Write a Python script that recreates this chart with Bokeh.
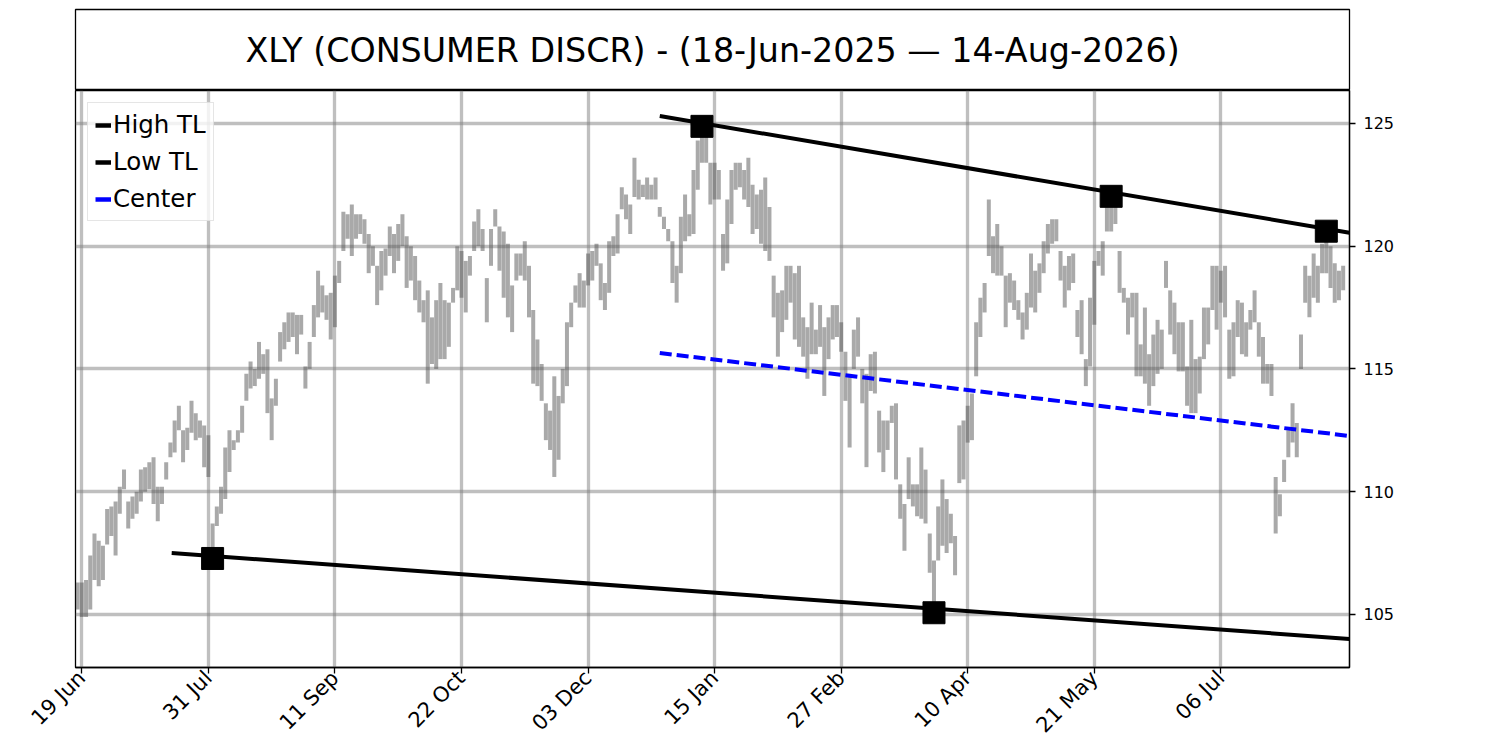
import math
from bokeh.plotting import figure
from bokeh.models import ColumnDataSource, Range1d, FixedTicker, Legend, LegendItem
from bokeh.layouts import column
from bokeh.core.properties import value
from bokeh.embed import file_html
from bokeh.resources import INLINE

TITLE = "XLY (CONSUMER DISCR) - (18-Jun-2025 \u2014 14-Aug-2026)"

TICK_IDX = [1, 31, 61, 91, 121, 151, 181, 211, 241, 271]
TICK_LABELS = ["19 Jun", "31 Jul", "11 Sep", "22 Oct", "03 Dec",
               "15 Jan", "27 Feb", "10 Apr", "21 May", "06 Jul"]
Y_TICKS = [105, 110, 115, 120, 125]

HIGH = [
    106.3, 106.3, 106.4, 107.4, 108.3, 108.0, 107.8, 109.3, 109.4, 109.6,
    110.2, 110.9, 109.6, 109.8, 110.0, 110.9, 111.0, 111.2, 111.4, 110.2,
    110.2, 111.2, 112.0, 112.9, 113.5, 112.5, 112.6, 113.7, 113.2, 112.9,
    112.7, 112.3, 108.7, 109.4, 110.2, 111.8, 112.5, 112.1, 112.5, 113.5,
    114.8, 115.3, 115.0, 116.1, 115.6, 115.8, 113.8, 114.6, 116.5, 116.9,
    117.3, 117.3, 117.2, 117.2, 115.1, 116.1, 117.6, 119.0, 118.4, 118.0,
    118.1, 118.8, 119.4, 121.4, 121.3, 121.7, 121.3, 121.3, 121.1, 120.5,
    120.0, 119.2, 119.8, 119.9, 120.8, 120.5, 120.9, 121.3, 120.4, 120.0,
    119.6, 118.6, 117.8, 118.2, 117.1, 117.8, 118.5, 117.8, 117.7, 118.3,
    120.0, 119.8, 119.4, 119.6, 121.0, 121.5, 120.7, 118.7, 120.7, 121.5,
    120.8, 120.6, 120.1, 118.4, 119.7, 119.7, 120.2, 119.2, 117.4, 116.2,
    115.2, 113.6, 113.3, 114.7, 113.9, 115.0, 116.9, 117.7, 118.4, 118.9,
    118.6, 119.7, 119.8, 120.1, 119.3, 118.5, 120.2, 120.4, 121.3, 122.4,
    122.1, 121.7, 123.6, 122.7, 122.5, 122.8, 122.5, 122.8, 121.6, 121.2,
    120.7, 120.2, 119.2, 121.2, 122.1, 121.3, 123.1, 124.3, 124.88, 124.5,
    123.4, 123.4, 123.1, 120.5, 121.9, 123.1, 123.4, 123.4, 123.1, 123.6,
    122.5, 122.1, 122.3, 122.8, 121.6, 118.8, 118.1, 118.2, 119.2, 119.2,
    118.9, 119.2, 117.1, 116.7, 117.7, 116.6, 117.6, 116.7, 117.1, 117.6,
    117.6, 116.9, 115.7, 114.8, 116.6, 117.1, 115.0, 114.8, 115.6, 115.7,
    113.3, 112.9, 112.9, 113.5, 113.6, 110.3, 109.5, 111.4, 110.3, 110.3,
    111.8, 110.9, 108.3, 107.2, 109.4, 110.5, 109.7, 109.1, 108.2, 112.7,
    112.9, 113.5, 114.0, 116.9, 117.9, 118.5, 121.9, 120.4, 120.9, 120.0,
    118.8, 118.9, 118.6, 117.8, 117.3, 118.1, 119.7, 119.0, 119.3, 120.2,
    120.9, 121.1, 121.1, 119.8, 119.2, 119.6, 119.7, 117.4, 117.8, 115.4,
    117.9, 119.4, 119.8, 120.2, 121.6, 122.03, 121.6, 119.8, 118.3, 117.9,
    118.1, 118.1, 116.0, 117.5, 115.6, 116.4, 117.0, 116.6, 119.4, 118.2,
    117.7, 116.9, 116.9, 115.1, 117.0, 115.4, 115.5, 117.5, 117.5, 119.2,
    119.2, 119.0, 119.2, 116.6, 116.9, 117.8, 117.7, 116.9, 117.4, 118.2,
    116.9, 116.3, 115.2, 115.2, 110.6, 109.9, 111.3, 112.5, 113.6, 112.8,
    116.4, 119.2, 118.8, 119.7, 119.2, 120.1, 120.61, 120.0, 119.3, 119.0,
    119.2,
]

LOW = [
    105.2, 104.9, 104.9, 105.2, 106.4, 106.15, 106.4, 107.85, 108.2, 107.4,
    109.1, 110.1, 108.5, 108.9, 109.1, 109.6, 110.0, 110.1, 109.5, 108.8,
    109.5, 110.5, 111.4, 111.6, 112.5, 111.2, 111.7, 112.4, 112.1, 112.2,
    111.0, 110.6, 107.3, 108.6, 109.1, 109.7, 110.8, 111.7, 112.0, 112.4,
    113.7, 114.2, 114.3, 114.6, 114.8, 113.2, 112.1, 113.5, 115.3, 115.8,
    116.1, 116.3, 115.6, 116.4, 114.2, 115.0, 116.3, 117.1, 117.3, 117.0,
    116.2, 116.7, 118.5, 119.8, 120.3, 119.6, 120.3, 120.5, 120.1, 118.9,
    119.2, 117.6, 118.2, 118.8, 119.6, 118.9, 119.4, 120.0, 118.3, 118.6,
    117.8, 117.3, 116.9, 114.4, 115.2, 115.0, 115.4, 115.4, 115.9, 117.7,
    118.2, 117.9, 117.3, 118.8, 119.8, 120.0, 119.8, 116.9, 119.2, 120.8,
    119.0, 117.9, 117.1, 116.5, 118.6, 118.8, 118.6, 117.1, 114.4, 114.3,
    113.7, 112.1, 111.7, 110.6, 111.3, 113.6, 114.3, 116.7, 117.7, 117.5,
    117.5, 118.4, 118.6, 119.2, 117.8, 117.4, 118.1, 119.6, 119.7, 121.5,
    121.1, 120.5, 122.0, 121.9, 122.0, 121.9, 121.9, 121.9, 121.2, 120.7,
    120.2, 118.5, 117.7, 118.9, 120.2, 120.4, 120.5, 122.3, 123.4, 123.4,
    121.7, 121.9, 121.9, 119.0, 119.3, 120.9, 122.3, 122.4, 121.9, 121.6,
    120.5, 120.7, 120.1, 119.8, 119.4, 117.1, 115.5, 116.5, 117.0, 117.7,
    116.2, 115.9, 115.5, 114.6, 115.6, 115.6, 115.9, 113.9, 115.4, 116.2,
    116.3, 115.7, 113.7, 111.8, 115.0, 115.5, 113.6, 111.0, 114.1, 114.0,
    111.6, 110.8, 111.7, 112.8, 110.5, 108.9, 107.6, 109.7, 109.4, 109.0,
    108.9, 108.7, 106.7, 105.07, 107.2, 107.8, 107.5, 107.9, 106.6, 110.35,
    110.5, 112.0, 112.1, 114.7, 116.3, 117.3, 119.6, 118.9, 118.8, 118.8,
    116.7, 117.7, 117.4, 117.0, 116.2, 116.6, 117.5, 117.3, 118.1, 118.9,
    119.7, 120.1, 120.2, 118.6, 117.5, 118.2, 118.5, 116.3, 115.6, 114.3,
    115.1, 116.8, 119.2, 118.8, 120.6, 120.6, 120.9, 118.1, 117.7, 116.4,
    117.1, 114.7, 114.7, 114.4, 113.5, 114.3, 114.8, 115.0, 118.3, 116.4,
    115.6, 114.9, 114.9, 113.5, 113.2, 113.2, 114.0, 115.4, 116.0, 117.4,
    116.6, 117.7, 117.1, 114.6, 114.7, 116.3, 115.6, 115.5, 116.6, 116.9,
    115.5, 114.4, 114.4, 113.9, 108.3, 109.0, 110.4, 111.4, 112.0, 111.4,
    115.0, 117.7, 117.1, 117.9, 117.7, 118.9, 118.9, 118.3, 117.7, 117.8,
    118.2,
]

IDX = list(range(len(HIGH)))

PIVOT_IDX = [32, 148, 203, 245, 296]
PIVOT_VAL = [107.28, 124.88, 105.07, 122.03, 120.61]

HIGH_TL_X = [138.0, 301.5]
HIGH_TL_Y = [125.3, 120.55]
LOW_TL_X = [22.3, 301.5]
LOW_TL_Y = [107.5, 104.0]
CENTER_X = [138.0, 301.5]
CENTER_Y = [115.65, 112.27]

FONT = "DejaVu Sans"

# ---- title box ----
top = figure(width=1480, height=90, x_range=Range1d(0, 1), y_range=Range1d(0, 1),
             toolbar_location=None, output_backend="svg", title=None,
             x_axis_location=None, y_axis_location=None,
             min_border_left=75, min_border_right=131, min_border_top=9, min_border_bottom=0)
top.grid.visible = False
top.outline_line_color = "black"
top.outline_line_width = 1.3
top.background_fill_color = "white"
top.border_fill_color = "white"
top.text(x=[0.5], y=[0.5], text=[TITLE], text_align="center", text_baseline="middle",
         text_font=value(FONT), text_font_size="33.3px", text_color="black")

# ---- main chart ----
p = figure(width=1480, height=660, x_range=Range1d(-0.5, 301.5), y_range=Range1d(102.84, 126.34),
           y_axis_location="right", toolbar_location=None, output_backend="svg", title=None,
           min_border_left=75, min_border_right=131, min_border_top=0, min_border_bottom=83)
p.outline_line_color = "black"
p.outline_line_width = 1.3
p.background_fill_color = "white"
p.border_fill_color = "white"

src = ColumnDataSource(dict(idx=IDX, high=HIGH, low=LOW))
p.segment(x0="idx", y0="low", x1="idx", y1="high", source=src,
          line_color="#545454", line_alpha=0.5, line_width=4.0)

p.line(HIGH_TL_X, HIGH_TL_Y, line_color="black", line_width=4)
p.line(LOW_TL_X, LOW_TL_Y, line_color="black", line_width=4)
p.line(CENTER_X, CENTER_Y, line_color="blue", line_width=4, line_dash="12 5")
p.scatter(PIVOT_IDX, PIVOT_VAL, marker="square", size=22, color="black")

# legend proxies with solid, thick handles (drawn outside the visible range)
r_hi = p.line([-20, -19], [110, 110], line_color="black", line_width=4.5)
r_lo = p.line([-20, -19], [110, 110], line_color="black", line_width=4.5)
r_c = p.line([-20, -19], [110, 110], line_color="blue", line_width=4.5)
legend = Legend(items=[LegendItem(label="High TL", renderers=[r_hi]),
                       LegendItem(label="Low TL", renderers=[r_lo]),
                       LegendItem(label="Center", renderers=[r_c])],
                location="top_left")
legend.margin = 12
legend.padding = 7
legend.spacing = 8
legend.label_height = 28
legend.glyph_height = 28
legend.glyph_width = 16
legend.label_standoff = 2
legend.label_text_font = FONT
legend.label_text_font_size = "24.5px"
legend.label_text_color = "black"
legend.border_line_color = "#cccccc"
legend.border_line_width = 1
legend.background_fill_color = "white"
legend.background_fill_alpha = 0.8
p.add_layout(legend)

# axes
p.xaxis.ticker = FixedTicker(ticks=TICK_IDX)
p.xaxis.major_label_overrides = {t: l for t, l in zip(TICK_IDX, TICK_LABELS)}
p.xaxis.major_label_orientation = math.pi / 4
p.yaxis.ticker = FixedTicker(ticks=Y_TICKS)
for ax in (p.xaxis, p.yaxis):
    ax.major_label_text_font = FONT
    ax.major_label_text_color = "black"
    ax.axis_line_color = "black"
    ax.axis_line_width = 1.3
    ax.major_tick_line_color = "black"
    ax.major_tick_line_width = 1.3
    ax.major_tick_out = 6
    ax.major_tick_in = 0
    ax.minor_tick_line_color = None
p.xaxis.major_label_text_font_size = "21px"
p.xaxis.major_label_standoff = 1
p.yaxis.major_label_text_font_size = "16px"
p.yaxis.major_label_standoff = 8

for g in (p.xgrid, p.ygrid):
    g.grid_line_color = "gray"
    g.grid_line_alpha = 0.5
    g.grid_line_width = 3.3

layout = column(top, p, spacing=0)
open("out.html", "w").write(file_html(layout, INLINE))
